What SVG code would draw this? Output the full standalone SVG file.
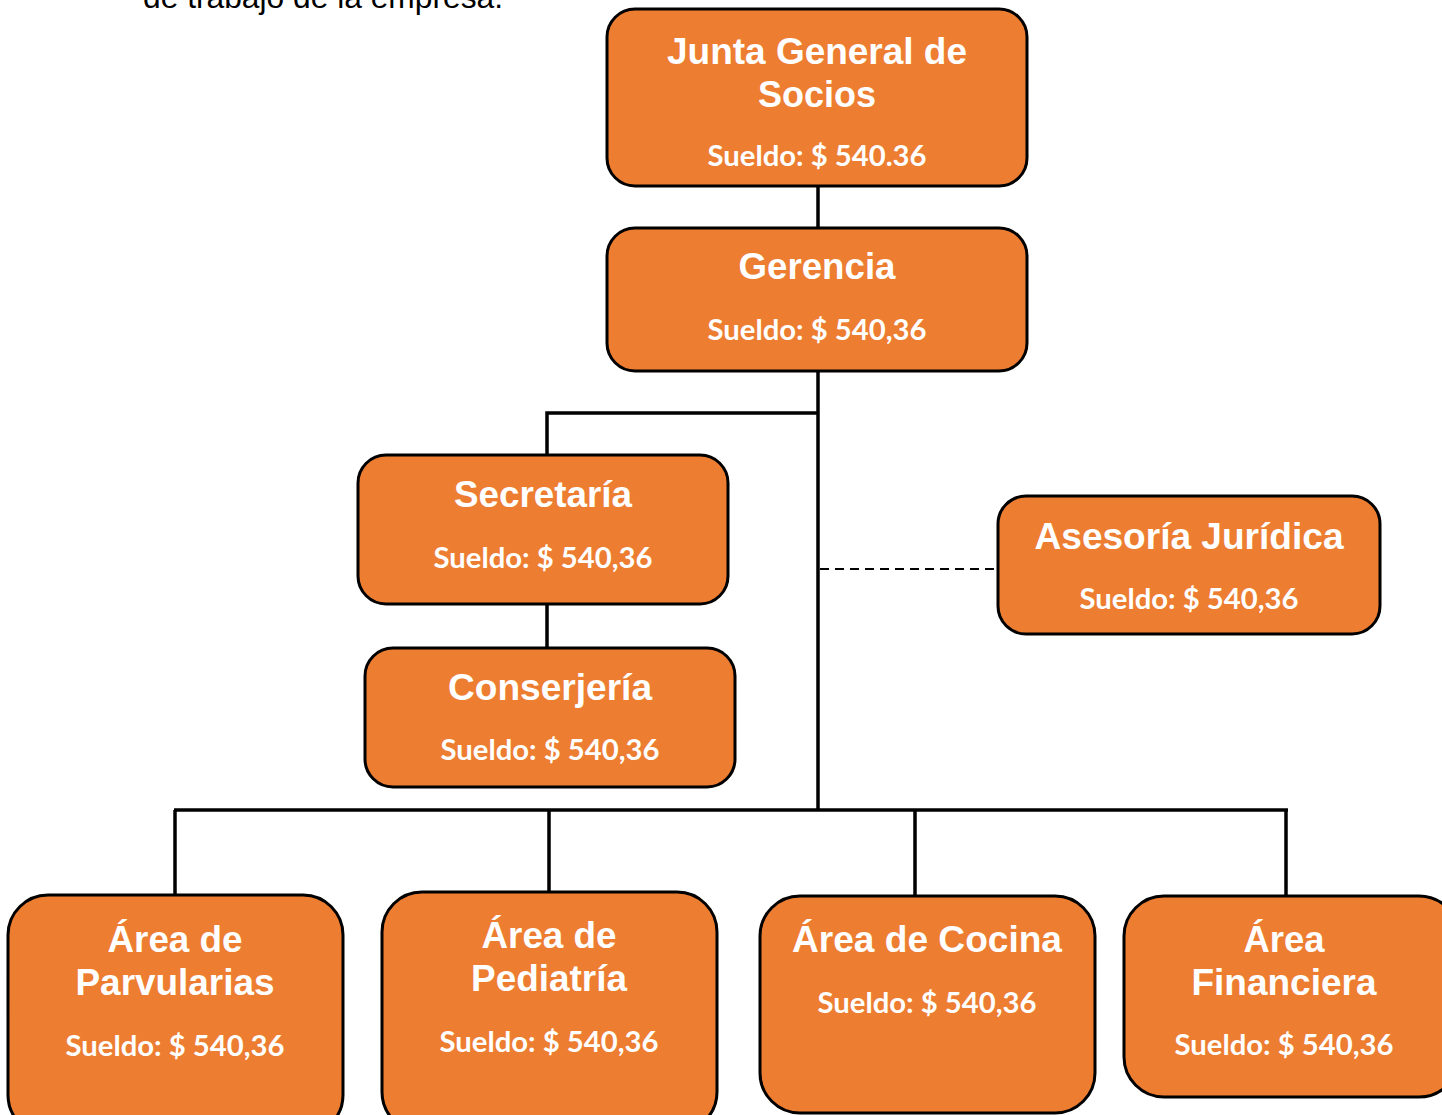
<svg xmlns="http://www.w3.org/2000/svg" width="1442" height="1115" viewBox="0 0 1442 1115">
  <style>
    .box { fill: #ED7D31; stroke: #000; stroke-width: 3; }
    .title { font-family: "Liberation Sans", Arial, sans-serif; font-weight: bold; font-size: 36px; fill: #fff; text-anchor: middle; }
    .pay { font-family: Lato, "Open Sans", sans-serif; font-weight: bold; font-size: 29px; fill: #fff; text-anchor: middle; }
    .line { stroke: #000; stroke-width: 3.5; fill: none; }
    .dash { stroke: #000; stroke-width: 2; fill: none; stroke-dasharray: 9 6; }
    .note { font-family: "Liberation Sans", Arial, sans-serif; font-size: 32px; fill: #000; }
  </style>
  <rect width="1442" height="1115" fill="#fff"/>

  <text class="note" x="143" y="8" textLength="360" lengthAdjust="spacingAndGlyphs">de trabajo de la empresa.</text>

  <g id="connectors">
    <line class="line" x1="818" y1="186" x2="818" y2="228"/>
    <line class="line" x1="818" y1="371" x2="818" y2="811"/>
    <polyline class="line" points="818,413 547,413 547,455"/>
    <line class="line" x1="547" y1="604" x2="547" y2="648"/>
    <line class="dash" x1="820" y1="569" x2="995" y2="569"/>
    <line class="line" x1="174" y1="810" x2="1288" y2="810"/>
    <line class="line" x1="175" y1="810" x2="175" y2="896"/>
    <line class="line" x1="549" y1="810" x2="549" y2="893"/>
    <line class="line" x1="915" y1="810" x2="915" y2="896"/>
    <line class="line" x1="1286" y1="810" x2="1286" y2="897"/>
  </g>

  <g id="junta">
    <rect class="box" x="607" y="9" width="420" height="177" rx="28"/>
    <text class="title" x="817" y="64" textLength="300" lengthAdjust="spacingAndGlyphs">Junta General de</text>
    <text class="title" x="817" y="107">Socios</text>
    <text class="pay" x="817" y="166" textLength="219" lengthAdjust="spacingAndGlyphs">Sueldo: $ 540.36</text>
  </g>

  <g id="gerencia">
    <rect class="box" x="607" y="228" width="420" height="143" rx="28"/>
    <text class="title" x="817" y="279" textLength="157" lengthAdjust="spacingAndGlyphs">Gerencia</text>
    <text class="pay" x="817" y="340" textLength="219" lengthAdjust="spacingAndGlyphs">Sueldo: $ 540,36</text>
  </g>

  <g id="secretaria">
    <rect class="box" x="358" y="455" width="370" height="149" rx="28"/>
    <text class="title" x="543" y="507" textLength="178" lengthAdjust="spacingAndGlyphs">Secretaría</text>
    <text class="pay" x="543" y="568" textLength="219" lengthAdjust="spacingAndGlyphs">Sueldo: $ 540,36</text>
  </g>

  <g id="conserjeria">
    <rect class="box" x="365" y="648" width="370" height="139" rx="28"/>
    <text class="title" x="550" y="700" textLength="204" lengthAdjust="spacingAndGlyphs">Conserjería</text>
    <text class="pay" x="550" y="760" textLength="219" lengthAdjust="spacingAndGlyphs">Sueldo: $ 540,36</text>
  </g>

  <g id="asesoria">
    <rect class="box" x="998" y="496" width="382" height="138" rx="28"/>
    <text class="title" x="1189" y="549" textLength="309" lengthAdjust="spacingAndGlyphs">Asesoría Jurídica</text>
    <text class="pay" x="1189" y="609" textLength="219" lengthAdjust="spacingAndGlyphs">Sueldo: $ 540,36</text>
  </g>

  <g id="parvularias">
    <rect class="box" x="8" y="895" width="335" height="240" rx="40"/>
    <text class="title" x="175" y="952" textLength="135" lengthAdjust="spacingAndGlyphs">Área de</text>
    <text class="title" x="175" y="995" textLength="199" lengthAdjust="spacingAndGlyphs">Parvularias</text>
    <text class="pay" x="175" y="1056" textLength="219" lengthAdjust="spacingAndGlyphs">Sueldo: $ 540,36</text>
  </g>

  <g id="pediatria">
    <rect class="box" x="382" y="892" width="335" height="240" rx="40"/>
    <text class="title" x="549" y="948" textLength="135" lengthAdjust="spacingAndGlyphs">Área de</text>
    <text class="title" x="549" y="991" textLength="156" lengthAdjust="spacingAndGlyphs">Pediatría</text>
    <text class="pay" x="549" y="1052" textLength="219" lengthAdjust="spacingAndGlyphs">Sueldo: $ 540,36</text>
  </g>

  <g id="cocina">
    <rect class="box" x="760" y="896" width="335" height="217" rx="40"/>
    <text class="title" x="927" y="952" textLength="270" lengthAdjust="spacingAndGlyphs">Área de Cocina</text>
    <text class="pay" x="927" y="1013" textLength="219" lengthAdjust="spacingAndGlyphs">Sueldo: $ 540,36</text>
  </g>

  <g id="financiera">
    <rect class="box" x="1124" y="896" width="335" height="201" rx="40"/>
    <text class="title" x="1284" y="952" textLength="81" lengthAdjust="spacingAndGlyphs">Área</text>
    <text class="title" x="1284" y="995" textLength="185" lengthAdjust="spacingAndGlyphs">Financiera</text>
    <text class="pay" x="1284" y="1055" textLength="219" lengthAdjust="spacingAndGlyphs">Sueldo: $ 540,36</text>
  </g>
</svg>
